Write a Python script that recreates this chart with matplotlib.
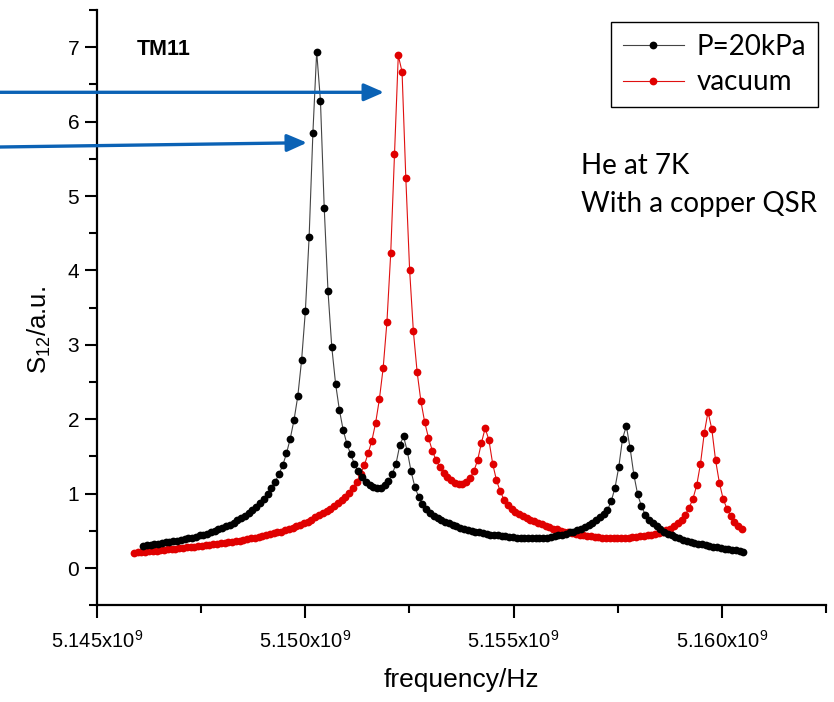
import numpy as np
import matplotlib
matplotlib.use("Agg")
import matplotlib.pyplot as plt
from matplotlib.ticker import MultipleLocator

plt.rcParams['font.family'] = ['Liberation Sans', 'DejaVu Sans']
plt.rcParams['mathtext.fontset'] = 'custom'
plt.rcParams['mathtext.rm'] = 'Liberation Sans'
plt.rcParams['mathtext.it'] = 'Liberation Sans:italic'

# ---------------- data ----------------
series_names = ["P=20kPa", "vacuum"]

# frequency sweeps (Hz): start, stop of the uniform sweep
p20_f_start, p20_f_stop = 5.146097e9, 5.160523e9
vac_f_start, vac_f_stop = 5.1458785e9, 5.1604892e9

p20_s12 = [
    0.30, 0.31, 0.315, 0.32, 0.33, 0.34, 0.345, 0.35, 0.36, 0.37,
    0.38, 0.39, 0.40, 0.41, 0.42, 0.44, 0.45, 0.46, 0.48, 0.50,
    0.52, 0.54, 0.56, 0.58, 0.61, 0.64, 0.67, 0.70, 0.74, 0.78,
    0.82, 0.87, 0.93, 1.00, 1.07, 1.16, 1.26, 1.38, 1.54, 1.74,
    1.99, 2.31, 2.79, 3.45, 4.45, 5.85, 6.94, 6.28, 4.84, 3.72,
    2.97, 2.48, 2.13, 1.86, 1.67, 1.53, 1.40, 1.30, 1.22, 1.16,
    1.12, 1.09, 1.07, 1.08, 1.11, 1.17, 1.26, 1.40, 1.65, 1.77,
    1.57, 1.30, 1.09, 0.96, 0.86, 0.79, 0.74, 0.70, 0.67, 0.64,
    0.62, 0.60, 0.58, 0.56, 0.54, 0.53, 0.51, 0.50, 0.49, 0.48,
    0.47, 0.46, 0.45, 0.44, 0.44, 0.43, 0.43, 0.42, 0.42, 0.41,
    0.41, 0.40, 0.40, 0.40, 0.40, 0.40, 0.41, 0.41, 0.42, 0.43,
    0.44, 0.45, 0.46, 0.48, 0.49, 0.51, 0.53, 0.55, 0.58, 0.61,
    0.65, 0.69, 0.73, 0.78, 0.90, 1.08, 1.36, 1.74, 1.91, 1.61,
    1.25, 0.99, 0.83, 0.72, 0.65, 0.60, 0.56, 0.52, 0.49, 0.46,
    0.44, 0.42, 0.40, 0.38, 0.37, 0.35, 0.34, 0.33, 0.32, 0.31,
    0.30, 0.29, 0.28, 0.27, 0.26, 0.25, 0.245, 0.24, 0.23, 0.22,
]

vac_s12 = [
    0.205, 0.21, 0.215, 0.22, 0.225, 0.23, 0.235, 0.24, 0.245, 0.25,
    0.255, 0.26, 0.265, 0.27, 0.28, 0.285, 0.29, 0.295, 0.30, 0.31,
    0.315, 0.32, 0.33, 0.335, 0.34, 0.35, 0.355, 0.36, 0.37, 0.38,
    0.39, 0.40, 0.41, 0.42, 0.43, 0.44, 0.46, 0.47, 0.48, 0.49,
    0.51, 0.52, 0.54, 0.56, 0.58, 0.60, 0.62, 0.65, 0.68, 0.71,
    0.74, 0.77, 0.80, 0.83, 0.87, 0.91, 0.96, 1.01, 1.08, 1.16,
    1.26, 1.38, 1.54, 1.71, 1.95, 2.27, 2.69, 3.31, 4.23, 5.56,
    6.89, 6.67, 5.24, 4.01, 3.18, 2.63, 2.24, 1.96, 1.75, 1.58,
    1.45, 1.36, 1.28, 1.22, 1.18, 1.15, 1.13, 1.13, 1.16, 1.21,
    1.30, 1.45, 1.68, 1.88, 1.72, 1.40, 1.18, 1.03, 0.92, 0.85,
    0.80, 0.76, 0.73, 0.70, 0.67, 0.65, 0.63, 0.61, 0.59, 0.57,
    0.55, 0.53, 0.52, 0.50, 0.49, 0.48, 0.47, 0.46, 0.45, 0.44,
    0.43, 0.43, 0.42, 0.42, 0.41, 0.41, 0.41, 0.41, 0.41, 0.41,
    0.41, 0.41, 0.42, 0.42, 0.43, 0.43, 0.44, 0.45, 0.46, 0.47,
    0.49, 0.51, 0.53, 0.56, 0.60, 0.65, 0.72, 0.81, 0.93, 1.11,
    1.40, 1.81, 2.10, 1.87, 1.45, 1.15, 0.93, 0.80, 0.70, 0.62,
    0.57, 0.52,
]

x_ticks = [5.145e9, 5.150e9, 5.155e9, 5.160e9]
x_tick_labels = ["5.145x10$^{9}$", "5.150x10$^{9}$", "5.155x10$^{9}$", "5.160x10$^{9}$"]
y_ticks = [0, 1, 2, 3, 4, 5, 6, 7]

p20_f = np.linspace(p20_f_start, p20_f_stop, len(p20_s12))
vac_f = np.linspace(vac_f_start, vac_f_stop, len(vac_s12))

# ---------------- figure ----------------
W, H = 834, 702
fig = plt.figure(figsize=(W / 100, H / 100), dpi=100)
ax = fig.add_axes([97.3 / W, 1 - 605.3 / H, (825.7 - 97.3) / W, (605.3 - 10) / H])

ax.plot(p20_f, p20_s12, color='#444444', lw=0.8, marker='o', ms=5.6,
        mfc='black', mec='black', mew=0, label=series_names[0], zorder=3)
ax.plot(vac_f, vac_s12, color='#e01010', lw=0.8, marker='o', ms=5.6,
        mfc='#e00000', mec='#e00000', mew=0, label=series_names[1], zorder=2)

ax.set_xlim(5.145e9, 5.1625e9)
ax.set_ylim(-0.5, 7.5)
ax.set_xticks(x_ticks, x_tick_labels)
ax.set_yticks(y_ticks)
ax.xaxis.set_minor_locator(MultipleLocator(2.5e6))
ax.yaxis.set_minor_locator(MultipleLocator(0.5))

for s in ['top', 'right']:
    ax.spines[s].set_visible(False)
for s in ['left', 'bottom']:
    ax.spines[s].set_linewidth(1.6)
ax.tick_params(which='major', direction='out', length=9, width=1.5, labelsize=15, pad=4)
ax.tick_params(which='minor', direction='out', length=5.5, width=1.5)
ax.tick_params(axis='x', which='major', pad=9, labelsize=14.5)

ax.set_xlabel('frequency/Hz', fontsize=19)
ax.xaxis.set_label_coords(0.5, -0.105)
ax.set_ylabel('S$_{12}$/a.u.', fontsize=18.5)
ax.yaxis.set_label_coords(-0.061, 0.4625)

ax.text(0.0545, 0.9244, 'TM11', transform=ax.transAxes, fontsize=15.5,
        fontweight='bold', va='baseline', ha='left')

fam2 = ['Lato', 'DejaVu Sans']
ax.text(0.664, (605.3 - 174) / 595.3, 'He at 7K', transform=ax.transAxes,
        fontsize=20, family=fam2, va='baseline', ha='left')
ax.text(0.664, (605.3 - 211.7) / 595.3, 'With a copper QSR', transform=ax.transAxes,
        fontsize=20, family=fam2, va='baseline', ha='left')

leg = ax.legend(loc='upper right', bbox_to_anchor=(0.989, 0.980), numpoints=1,
                prop={'family': fam2, 'size': 20}, frameon=True, fancybox=False,
                framealpha=1, edgecolor='black', borderpad=0.42, labelspacing=0.35,
                handlelength=2.2, handletextpad=0.45, borderaxespad=0)
leg.get_frame().set_linewidth(1.0)

# blue arrows
blue = '#0b62b5'
def px(x, y):
    return (x / W, 1 - y / H)
ax.annotate('', xy=px(384, 92.3), xytext=px(0, 92.3), xycoords='figure fraction',
            textcoords='figure fraction', annotation_clip=False,
            arrowprops=dict(arrowstyle='-|>,head_length=0.8,head_width=0.35',
                            mutation_scale=15, lw=2.4, color=blue, shrinkA=0, shrinkB=0))
ax.annotate('', xy=px(307, 142.7), xytext=px(0, 147), xycoords='figure fraction',
            textcoords='figure fraction', annotation_clip=False,
            arrowprops=dict(arrowstyle='-|>,head_length=0.8,head_width=0.35',
                            mutation_scale=15, lw=2.4, color=blue, shrinkA=0, shrinkB=0))

fig.savefig('out.png', dpi=100)
